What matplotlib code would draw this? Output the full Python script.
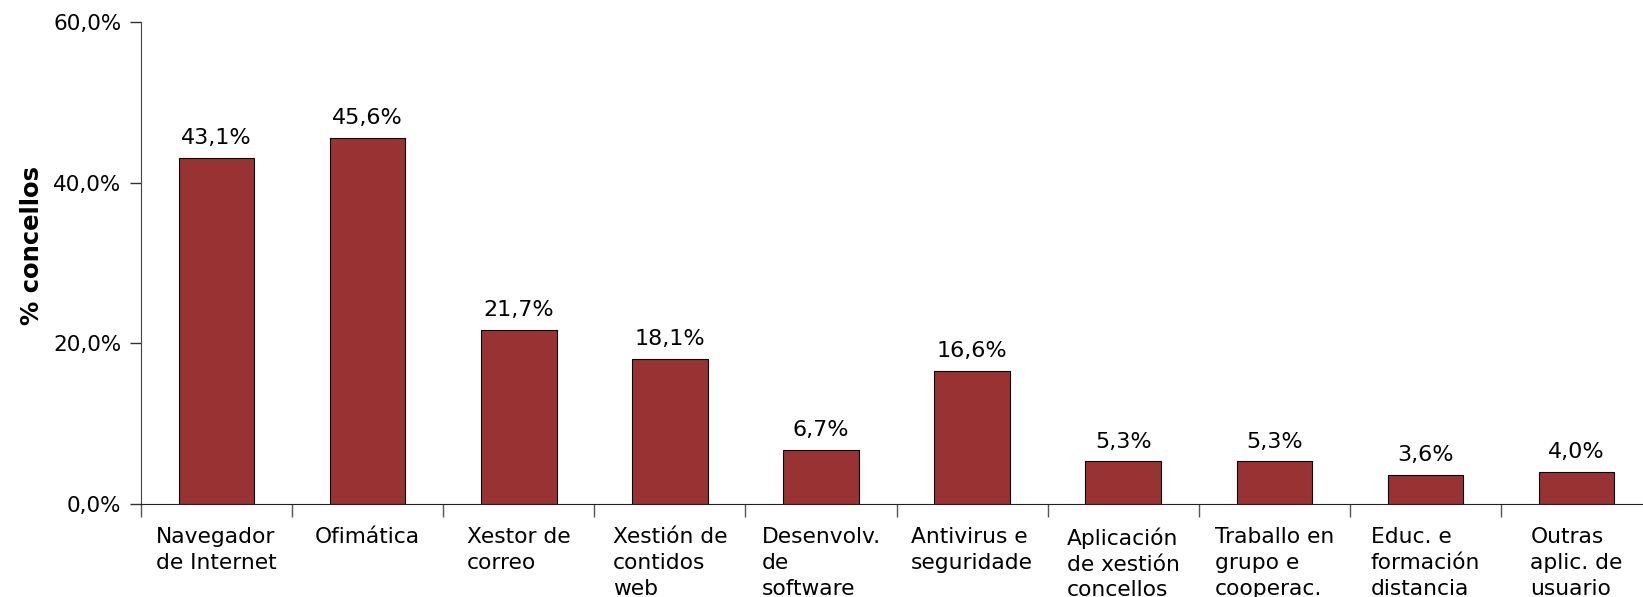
import matplotlib.pyplot as plt
from matplotlib.ticker import FixedLocator

# categories (x labels) and share of councils in %
categories = ['Navegador\nde Internet', 'Ofimática', 'Xestor de\ncorreo',
              'Xestión de\ncontidos\nweb', 'Desenvolv.\nde\nsoftware',
              'Antivirus e\nseguridade', 'Aplicación\nde xestión\nconcellos',
              'Traballo en\ngrupo e\ncooperac.', 'Educ. e\nformación\ndistancia',
              'Outras\naplic. de\nusuario']
values = [43.1, 45.6, 21.7, 18.1, 6.7, 16.6, 5.3, 5.3, 3.6, 4.0]
yticks = [0, 20, 40, 60]


def pct(v):
    return ('%.1f%%' % v).replace('.', ',')


fig = plt.figure(figsize=(16.43, 5.97), dpi=100)
ax = fig.add_axes([0.0858, 0.156, 0.9142, 0.807])

x = list(range(len(values)))
bars = ax.bar(x, values, width=0.5, color='#993333', edgecolor='black', linewidth=0.8)

for xi, v in zip(x, values):
    ax.annotate(pct(v), (xi, v), xytext=(0, 7), textcoords='offset points',
                ha='center', va='bottom', fontsize=16)

ax.set_xlim(-0.5, 9.44)
ax.set_ylim(0, 60)
ax.set_yticks(yticks)
ax.set_yticklabels([pct(t) for t in yticks], fontsize=15.5)
ax.tick_params(axis='y', length=8, width=1, pad=6, color='#333333')

ax.set_xticks(x)
ax.set_xticklabels(categories, fontsize=15.7, multialignment='left', va='top',
                   linespacing=1.35)
ax.tick_params(axis='x', which='major', length=0, pad=17)
ax.xaxis.set_minor_locator(FixedLocator([i - 0.5 for i in range(len(values) + 1)]))
ax.tick_params(axis='x', which='minor', length=9, width=1, color='#555555')

ax.set_ylabel('% concellos', fontsize=17.5, fontweight='bold', labelpad=7, y=0.537)

for s in ['top', 'right']:
    ax.spines[s].set_visible(False)
ax.spines['left'].set_color('#444444')
ax.spines['bottom'].set_color('#222222')

fig.savefig('out.png', dpi=100)
